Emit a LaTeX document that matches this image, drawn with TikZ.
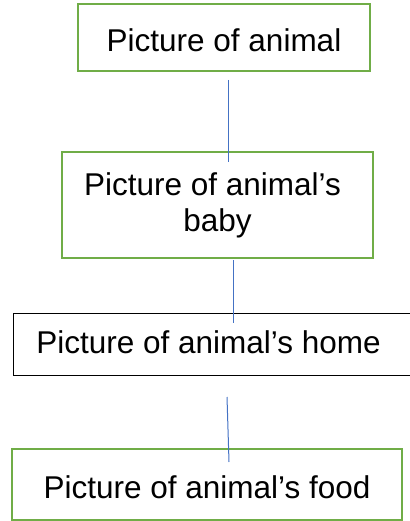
\documentclass[tikz,border=0pt]{standalone}
\usepackage{fontspec}
\setmainfont{Liberation Sans}
\definecolor{boxgreen}{HTML}{70AD47}
\definecolor{lineblue}{HTML}{4472C4}

\begin{document}
\begin{tikzpicture}[x=1pt,y=-1pt]
\tikzstyle{every node}+=[inner sep=0pt, font=\fontsize{31.5}{36}\selectfont]
\tikzstyle{greenbox}=[draw=boxgreen, line width=2.3pt]
\tikzstyle{blackbox}=[draw=black, line width=1pt]
\tikzstyle{link}=[draw=lineblue, line width=1pt]
\useasboundingbox (0,0) rectangle (409,521);
% boxes
\node [greenbox, minimum width=292pt, minimum height=67pt, text height=29pt, text depth=0pt] (animal) at (224,37.5) {Picture of animal};
\node [greenbox, minimum width=311pt, minimum height=106pt, align=center] (baby) at (217.5,205) {Picture of animal’s\kern10pt\\baby};
\node [blackbox, minimum width=399pt, minimum height=62pt, text height=18pt, text depth=0pt] (home) at (212.5,344) {Picture of animal’s home\kern8pt};
\node [greenbox, minimum width=390pt, minimum height=71pt, text height=27pt, text depth=0pt] (food) at (207,484.5) {Picture of animal’s food};
% connectors
\coordinate (animal-end) at (228,80);
\coordinate (baby-top) at (228,162);
\coordinate (baby-end) at (233,260);
\coordinate (home-top) at (233,323);
\coordinate (home-end) at (227,397);
\coordinate (food-top) at (229,462);
\draw [link] (animal-end) -- (baby-top);
\draw [link] (baby-end) -- (home-top);
\draw [link] (home-end) -- (food-top);
\end{tikzpicture}
\end{document}
